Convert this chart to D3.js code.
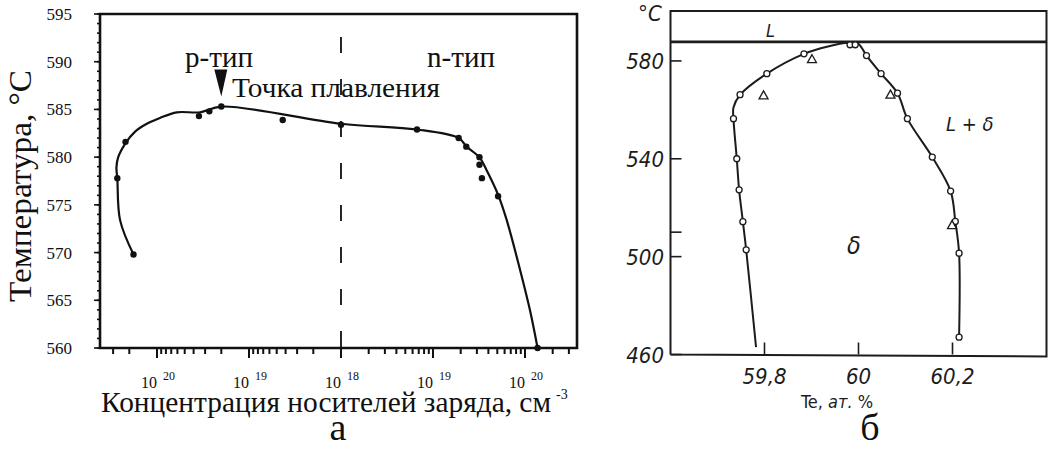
<!DOCTYPE html>
<html>
<head>
<meta charset="utf-8">
<script src="https://cdn.jsdelivr.net/npm/d3@7"></script>
<style>
  html, body { margin: 0; padding: 0; background: #fff; }
  svg { display: block; }
</style>
</head>
<body>
<script>
// ---------- Panel а: melting temperature vs carrier concentration ----------
// measured points, p-type side (hole concentration, cm^-3) and n-type side
const pConc = [2.7e20, 2.2e20, 1.8e20, 3.5e19, 2.7e19, 2.0e19, 4.3e18, 1.0e18];
const pTemp = [577.8, 581.6, 569.8, 584.3, 584.8, 585.3, 583.9, 583.4];
const nConc = [6.7e18, 1.9e19, 2.3e19, 3.2e19, 3.2e19, 3.4e19, 5.1e19, 1.37e20];
const nTemp = [582.9, 582.0, 581.1, 580.0, 579.2, 577.8, 575.9, 560.0];

// hand-drawn fit curve through the measurements
const curvePConc = [1.8e20, 2.52e20, 2.70e20, 2.76e20, 2.64e20, 2.22e20, 1.72e20, 1.29e20, 9.3e19, 6.1e19, 3.4e19, 2.0e19, 1.0e18];
const curvePTemp = [569.8, 573.4, 577.8, 578.9, 580.0, 581.4, 582.7, 583.5, 584.1, 584.7, 584.7, 585.3, 583.5];
const curveNConc = [6.7e18, 1.9e19, 2.32e19, 3.19e19, 3.84e19, 5.13e19, 6.33e19, 8.83e19, 1.13e20, 1.37e20];
const curveNTemp = [582.9, 582.0, 581.1, 580.0, 578.6, 576.0, 573.4, 568.2, 564.0, 560.0];

const meltConc = 2.0e19, meltTemp = 585.3;   // congruent melting point (p-type)
const tempTicksA = [560, 565, 570, 575, 580, 585, 590, 595];
const pTickExp = [20, 19];
const nTickExp = [19, 20];
const centreExp = 18;

// ---------- Panel б: Pb–Te phase diagram near PbTe ----------
const circleTe = [59.748, 59.734, 59.741, 59.746, 59.754, 59.761, 59.805, 59.884, 59.982, 59.993,
                  60.017, 60.048, 60.083, 60.104, 60.157, 60.196, 60.206, 60.214, 60.214];
const circleT  = [566.2, 556.4, 540.0, 527.3, 514.3, 502.8, 574.8, 582.9, 586.6, 586.6,
                  582.2, 574.8, 566.8, 556.4, 540.7, 526.8, 514.4, 501.4, 467.1];
const triTe = [59.798, 59.901, 60.068, 60.199];
const triT  = [565.9, 580.7, 566.2, 512.9];
const boundTe = [59.782, 59.761, 59.754, 59.746, 59.741, 59.734, 59.734, 59.748, 59.805, 59.884, 59.935,
                 59.978, 59.999, 60.017, 60.048, 60.083, 60.104, 60.157, 60.196, 60.206, 60.214, 60.214];
const boundT  = [463.0, 502.8, 514.3, 527.3, 540.0, 556.4, 561.0, 566.1, 574.8, 582.9, 585.9,
                 587.4, 587.1, 582.2, 574.8, 566.8, 556.4, 540.7, 526.8, 514.4, 501.4, 467.1];
const liquidusT = 587.8;
const tempTicksB = [460, 500, 540, 580];
const tempMinorB = [510];
const teTicks = [59.8, 60.0, 60.2];

const svg = d3.select("body").append("svg").attr("width", 1048).attr("height", 450);
const serif = "'Liberation Serif', 'Times New Roman', serif";
const narrow = "'Liberation Sans Narrow', 'DejaVu Sans Condensed', 'Liberation Sans', sans-serif";
const ink = "#111";

// ===== panel а =====
const A = { left: 100, right: 577, top: 14, bottom: 348 };
const yA = d3.scaleLinear().domain([560, 595]).range([A.bottom, A.top]);
// p-type concentrations grow to the left, n-type to the right, both from 10^18 in the middle
const xP = d3.scaleLog().domain([1e18, 1e20]).range([341, 157]);
const xN = d3.scaleLog().domain([1e18, 1e20]).range([341, 525]);

const gA = svg.append("g");

// concentration ticks
const pTicks = d3.scaleLog().domain([1e18, 4e20]).ticks().filter(v => xP(v) > A.left + 2);
const nTicks = d3.scaleLog().domain([1e18, 3e20]).ticks().filter(v => xN(v) < A.right - 2);
const isDecade = v => Math.abs(Math.log10(v) - Math.round(Math.log10(v))) < 1e-9;
const tickPos = pTicks.map(v => ({ x: xP(v), major: isDecade(v) }))
  .concat(nTicks.filter(v => v > 1e18).map(v => ({ x: xN(v), major: isDecade(v) })));
gA.selectAll("line.xt").data(tickPos).join("line")
  .attr("x1", d => d.x).attr("x2", d => d.x)
  .attr("y1", A.bottom).attr("y2", d => A.bottom + (d.major ? 10 : 6))
  .attr("stroke", ink).attr("stroke-width", 2);

// temperature ticks: every degree, labelled every 5
gA.selectAll("line.ytm").data(yA.ticks(35)).join("line")
  .attr("x1", A.left).attr("x2", A.left - 3)
  .attr("y1", d => yA(d)).attr("y2", d => yA(d))
  .attr("stroke", ink).attr("stroke-width", 1.6);
gA.selectAll("line.ytM").data(tempTicksA).join("line")
  .attr("x1", A.left).attr("x2", A.left - 6)
  .attr("y1", d => yA(d)).attr("y2", d => yA(d))
  .attr("stroke", ink).attr("stroke-width", 1.6);
gA.selectAll("text.yl").data(tempTicksA).join("text")
  .attr("x", 72).attr("y", d => yA(d) + 6)
  .attr("text-anchor", "end").attr("font-family", serif).attr("font-size", 17)
  .attr("fill", ink).text(d => d);

// frame
gA.append("path")
  .attr("d", `M${A.left},${A.bottom}V${A.top}H${A.right}V${A.bottom}Z`)
  .attr("fill", "none").attr("stroke", ink).attr("stroke-width", 2.6);

// p / n boundary at 10^18
gA.append("line")
  .attr("x1", xP(1e18)).attr("x2", xP(1e18)).attr("y1", A.top).attr("y2", A.bottom)
  .attr("stroke", ink).attr("stroke-width", 1.8)
  .attr("stroke-dasharray", "16,26").attr("stroke-dashoffset", 19);

// concentration labels 10^n: base and exponent as separate texts
const expLabels = pTickExp.map(e => ({ x: xP(Math.pow(10, e)), e }))
  .concat([{ x: xP(Math.pow(10, centreExp)), e: centreExp }])
  .concat(nTickExp.map(e => ({ x: xN(Math.pow(10, e)), e })));
gA.selectAll("text.xb").data(expLabels).join("text")
  .attr("x", d => d.x).attr("y", 388)
  .attr("text-anchor", "end").attr("font-family", serif).attr("font-size", 16)
  .attr("fill", ink).text("10");
gA.selectAll("text.xe").data(expLabels).join("text")
  .attr("x", d => d.x + 6).attr("y", 380)
  .attr("font-family", serif).attr("font-size", 12)
  .attr("fill", ink).text(d => d.e);

// fit curve
const curveA = curvePConc.map((c, i) => [xP(c), yA(curvePTemp[i])])
  .concat(curveNConc.map((c, i) => [xN(c), yA(curveNTemp[i])]));
gA.append("path")
  .attr("d", d3.line().curve(d3.curveCatmullRom.alpha(0.5))(curveA))
  .attr("fill", "none").attr("stroke", ink).attr("stroke-width", 2.2);

// measurements
const ptsA = pConc.map((c, i) => [xP(c), yA(pTemp[i])])
  .concat(nConc.map((c, i) => [xN(c), yA(nTemp[i])]));
gA.selectAll("circle.pt").data(ptsA).join("circle")
  .attr("cx", d => d[0]).attr("cy", d => d[1]).attr("r", 3.2).attr("fill", ink);

// melting-point marker
const mx = xP(meltConc), my = yA(meltTemp);
gA.append("path")
  .attr("d", `M${mx - 7},${my - 37}H${mx + 6}L${mx},${my - 10}Z`)
  .attr("fill", ink);

// texts
gA.append("text").attr("x", 185).attr("y", 67)
  .attr("font-family", serif).attr("font-size", 30).attr("textLength", 68)
  .attr("lengthAdjust", "spacingAndGlyphs").attr("fill", ink).text("р-тип");
gA.append("text").attr("x", 427).attr("y", 67)
  .attr("font-family", serif).attr("font-size", 30).attr("textLength", 68)
  .attr("lengthAdjust", "spacingAndGlyphs").attr("fill", ink).text("n-тип");
gA.append("text").attr("x", 232).attr("y", 97)
  .attr("font-family", serif).attr("font-size", 28).attr("textLength", 208)
  .attr("lengthAdjust", "spacingAndGlyphs").attr("fill", ink).text("Точка плавления");
gA.append("text").attr("transform", "translate(31,186) rotate(-90)")
  .attr("text-anchor", "middle").attr("font-family", serif).attr("font-size", 31)
  .attr("textLength", 232).attr("lengthAdjust", "spacingAndGlyphs")
  .attr("fill", ink).text("Температура, °С");
gA.append("text").attr("x", 101).attr("y", 412)
  .attr("font-family", serif).attr("font-size", 30).attr("textLength", 450)
  .attr("lengthAdjust", "spacingAndGlyphs").attr("fill", ink).text("Концентрация носителей заряда, см");
gA.append("text").attr("x", 556).attr("y", 399)
  .attr("font-family", serif).attr("font-size", 14).attr("fill", ink).text("-3");
gA.append("text").attr("x", 338).attr("y", 440).attr("text-anchor", "middle")
  .attr("font-family", serif).attr("font-size", 38).attr("fill", ink).text("а");

// ===== panel б =====
const B = { left: 670.5, right: 1046.5, top: 11, bottom: 354.5 };
const xB = d3.scaleLinear().domain([59.6, 60.4]).range([B.left, B.right]);
const yB = d3.scaleLinear().domain([460, 600.4]).range([B.bottom, B.top]);
const gB = svg.append("g");
const inkB = "#1c1c1c";
const fmtB = d3.formatLocale({ decimal: ",", thousands: " ", grouping: [3], currency: ["", ""] }).format("~g");

gB.append("path")
  .attr("d", `M${B.left},${B.bottom}V${B.top}H${B.right}V${B.bottom + 2}L${B.left},${B.bottom}`)
  .attr("fill", "none").attr("stroke", inkB).attr("stroke-width", 2);

// liquidus
gB.append("line").attr("x1", B.left).attr("x2", B.right)
  .attr("y1", yB(liquidusT)).attr("y2", yB(liquidusT))
  .attr("stroke", inkB).attr("stroke-width", 2.6);

// ticks
gB.selectAll("line.yt").data(tempTicksB.concat(tempMinorB)).join("line")
  .attr("x1", B.left).attr("x2", B.left + 11)
  .attr("y1", d => yB(d)).attr("y2", d => yB(d))
  .attr("stroke", inkB).attr("stroke-width", 1.6);
gB.selectAll("text.yl").data(tempTicksB).join("text")
  .attr("x", 664).attr("y", d => yB(d) + 8)
  .attr("text-anchor", "end").attr("font-family", narrow).attr("font-style", "italic")
  .attr("font-size", 22).attr("fill", inkB).text(d => d);
gB.selectAll("line.xt").data(teTicks).join("line")
  .attr("x1", d => xB(d)).attr("x2", d => xB(d))
  .attr("y1", B.bottom).attr("y2", B.bottom - 12)
  .attr("stroke", inkB).attr("stroke-width", 1.6);
gB.selectAll("text.xl").data(teTicks).join("text")
  .attr("x", d => xB(d)).attr("y", 384)
  .attr("text-anchor", "middle").attr("font-family", narrow).attr("font-style", "italic")
  .attr("font-size", 22).attr("fill", inkB).text(d => fmtB(d));

// phase boundary
gB.append("path")
  .attr("d", d3.line().curve(d3.curveCatmullRom.alpha(0.5))(boundTe.map((t, i) => [xB(t), yB(boundT[i])])))
  .attr("fill", "none").attr("stroke", inkB).attr("stroke-width", 2);

// data markers
gB.selectAll("circle.pt").data(circleTe.map((t, i) => [xB(t), yB(circleT[i])])).join("circle")
  .attr("cx", d => d[0]).attr("cy", d => d[1]).attr("r", 3)
  .attr("fill", "#fff").attr("stroke", inkB).attr("stroke-width", 1.3);
gB.selectAll("path.tri").data(triTe.map((t, i) => [xB(t), yB(triT[i])])).join("path")
  .attr("d", d => `M${d[0]},${d[1] - 4.5}L${d[0] + 4.5},${d[1] + 3.5}L${d[0] - 4.5},${d[1] + 3.5}Z`)
  .attr("fill", "#fff").attr("stroke", inkB).attr("stroke-width", 1.3);

// labels
gB.append("text").attr("x", 638).attr("y", 21)
  .attr("font-family", narrow).attr("font-style", "italic").attr("font-size", 22)
  .attr("fill", inkB).text("°C");
gB.append("text").attr("x", 766).attr("y", 37)
  .attr("font-family", narrow).attr("font-style", "italic").attr("font-size", 18)
  .attr("fill", inkB).text("L");
gB.append("text").attr("x", 946).attr("y", 131)
  .attr("font-family", narrow).attr("font-style", "italic").attr("font-size", 20)
  .attr("fill", inkB).text("L + δ");
gB.append("text").attr("x", 847).attr("y", 254)
  .attr("font-family", narrow).attr("font-style", "italic").attr("font-size", 25)
  .attr("fill", inkB).text("δ");
const te = gB.append("text").attr("x", 801).attr("y", 408)
  .attr("font-family", narrow).attr("font-size", 18).attr("fill", inkB);
te.append("tspan").text("Te, ");
te.append("tspan").attr("font-style", "italic").text("ат.");
te.append("tspan").text(" %");
gB.append("text").attr("x", 870).attr("y", 440).attr("text-anchor", "middle")
  .attr("font-family", serif).attr("font-size", 38).attr("fill", ink).text("б");
</script>
</body>
</html>
